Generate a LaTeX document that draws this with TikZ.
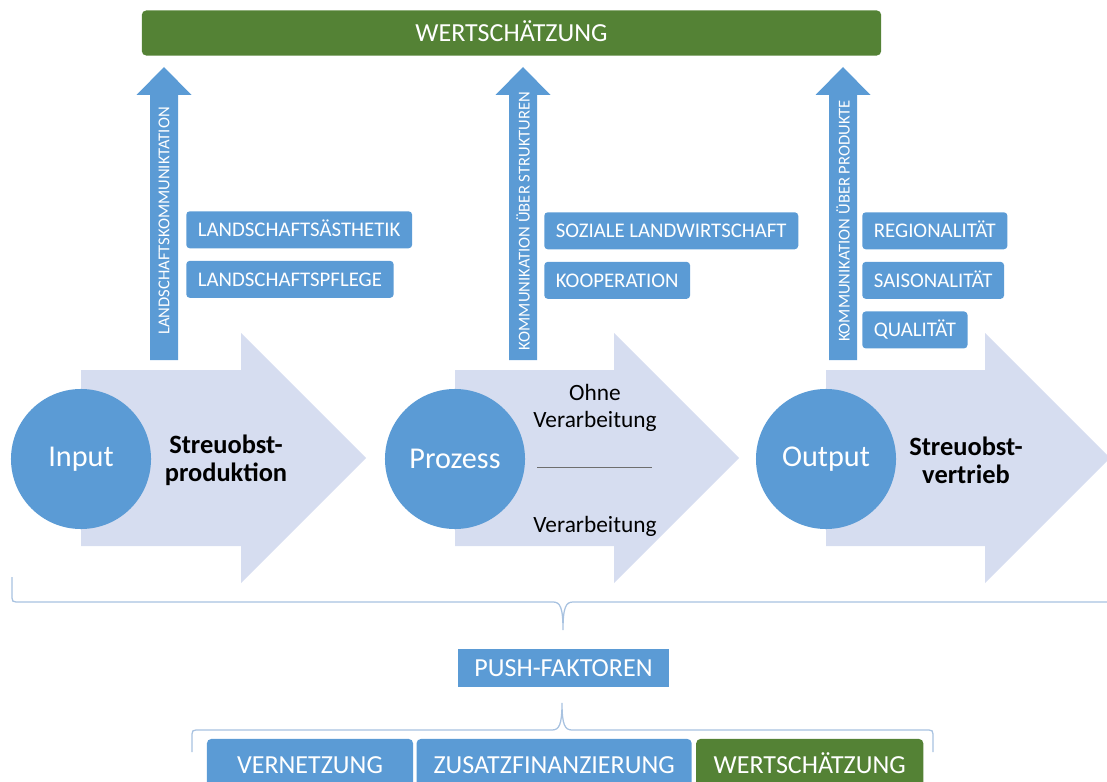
\documentclass[tikz,border=0pt]{standalone}
\usepackage{fontspec}
\setmainfont{Carlito}
\usepackage{xcolor}
\usetikzlibrary{positioning}
\definecolor{midblue}{RGB}{91,155,213}
\definecolor{paleblue}{RGB}{214,221,240}
\definecolor{valuegreen}{RGB}{84,130,53}
\definecolor{bracegray}{RGB}{168,194,224}
\definecolor{rulegray}{RGB}{110,110,110}

\begin{document}
\begin{tikzpicture}[%
    x=0.025cm,
    y=-0.025cm,
    node distance=0.3cm and 0cm,
    flow/.style={fill=paleblue},
    lift/.style={fill=midblue},
    liftlabel/.style={%
      rotate=90,
      text=white,
      font=\fontsize{11.8}{13}\selectfont
    },
    stage/.style={%
      circle,
      fill=midblue,
      text=white,
      minimum size=3.5cm,
      inner sep=0pt,
      font=\fontsize{21.5}{25}\selectfont
    },
    stagetitle/.style={%
      align=center,
      font=\bfseries\fontsize{18.8}{20}\selectfont
    },
    variant/.style={%
      align=center,
      font=\fontsize{16.6}{19.2}\selectfont
    },
    tag/.style={%
      fill=midblue,
      text=white,
      rounded corners=2.5pt,
      anchor=north west,
      inner xsep=0.29cm,
      minimum height=0.925cm,
      text height=9.5pt,
      text depth=0pt,
      font=\fontsize{14.8}{17}\selectfont
    },
    factor/.style={%
      fill=midblue,
      text=white,
      rounded corners=3pt,
      minimum height=1.3cm,
      text height=11.9pt,
      text depth=0pt,
      font=\fontsize{18.5}{22}\selectfont
    },
    brace/.style={%
      draw=bracegray,
      line width=0.9pt
    }
  ]
    \useasboundingbox (0,0) rectangle (1107,782);
    \clip (0,0) rectangle (1107,782);

    \node[factor, fill=valuegreen, minimum width=18.475cm, minimum height=1.125cm] (value) at (511.5,33) {WERTSCHÄTZUNG};

    \fill[flow] (81,370) -- (241,370) -- (241,333) -- (366,458) -- (241,583) -- (241,546) -- (81,546) -- cycle;
    \fill[flow] (455,370) -- (614,370) -- (614,333) -- (739,458) -- (614,583) -- (614,546) -- (455,546) -- cycle;
    \fill[flow] (826,370) -- (985,370) -- (985,333) -- (1110,458) -- (985,583) -- (985,546) -- (826,546) -- cycle;

    \fill[lift] (150,360) -- (150,95) -- (136.5,95) -- (164,67) -- (191.5,95) -- (178,95) -- (178,360) -- cycle;
    \fill[lift] (509,360) -- (509,95) -- (495.5,95) -- (523,67) -- (550.5,95) -- (537,95) -- (537,360) -- cycle;
    \fill[lift] (829,360) -- (829,95) -- (815.5,95) -- (843,67) -- (870.5,95) -- (857,95) -- (857,360) -- cycle;

    \node[liftlabel] (lift1) at (164,221) {LANDSCHAFTSKOMMUNIKTATION};
    \node[liftlabel] (lift2) at (523,221) {KOMMUNIKATION ÜBER STRUKTUREN};
    \node[liftlabel] (lift3) at (843,221) {KOMMUNIKATION ÜBER PRODUKTE};

    \node[tag] (aesthetik) at (186,211)                          {LANDSCHAFTSÄSTHETIK};
    \node[tag] (pflege)    [below right=of aesthetik.south west] {LANDSCHAFTSPFLEGE};
    \node[tag] (sozial)    at (544,212)                          {SOZIALE LANDWIRTSCHAFT};
    \node[tag] (koop)      [below right=of sozial.south west]    {KOOPERATION};
    \node[tag] (regio)     at (862,212)                          {REGIONALITÄT};
    \node[tag] (saison)    [below right=of regio.south west]     {SAISONALITÄT};
    \node[tag] (quali)     [below right=of saison.south west]    {QUALITÄT};

    \node[stage] (input)   at (81,459)  {Input};
    \node[stage] (prozess) at (455,459) {Prozess};
    \node[stage] (output)  at (826,459) {Output};

    \node[stagetitle] (produktion) at (226,460) {Streuobst-\\produktion};
    \node[stagetitle] (vertrieb)   at (966,460) {Streuobst-\\vertrieb};

    \coordinate (split west) at (537,467);
    \coordinate (split east) at (652,467);
    \draw[rulegray, line width=0.7pt] (split west) -- (split east);
    \node[variant] (ohne) at (595,408) {Ohne\\Verarbeitung};
    \node[variant] (mit)  at (595,526) {Verarbeitung};

    \coordinate (upper west) at (12,577);
    \coordinate (upper tip)  at (563,630);
    \coordinate (upper east) at (1114,577);
    \draw[brace] (upper west) -- (12,598) .. controls (12,601) and (13,602) .. (16,602)
      -- (553,602) .. controls (560,602) and (563,607) .. (upper tip)
      .. controls (563,607) and (566,602) .. (573,602) -- (1110,602)
      .. controls (1113,602) and (1114,601) .. (1114,598) -- (upper east);

    \node[factor, rounded corners=0pt, minimum width=5.275cm, minimum height=0.95cm] (push) at (563.5,668) {PUSH-FAKTOREN};

    \coordinate (lower west) at (192,752);
    \coordinate (lower tip)  at (562,703);
    \coordinate (lower east) at (933,752);
    \draw[brace] (lower west) -- (192,734) .. controls (192,731) and (193,730) .. (196,730)
      -- (552,730) .. controls (559,730) and (562,725) .. (lower tip)
      .. controls (562,725) and (565,730) .. (572,730) -- (929,730)
      .. controls (932,730) and (933,731) .. (933,734) -- (lower east);

    \node[factor, minimum width=5.15cm]  (vernetzung) at (310,765) {VERNETZUNG};
    \node[factor, minimum width=6.875cm] (finanz)     [right=0.075cm of vernetzung] {ZUSATZFINANZIERUNG};
    \node[factor, fill=valuegreen, minimum width=5.675cm] (wert) [right=0.1cm of finanz] {WERTSCHÄTZUNG};
\end{tikzpicture}
\end{document}
